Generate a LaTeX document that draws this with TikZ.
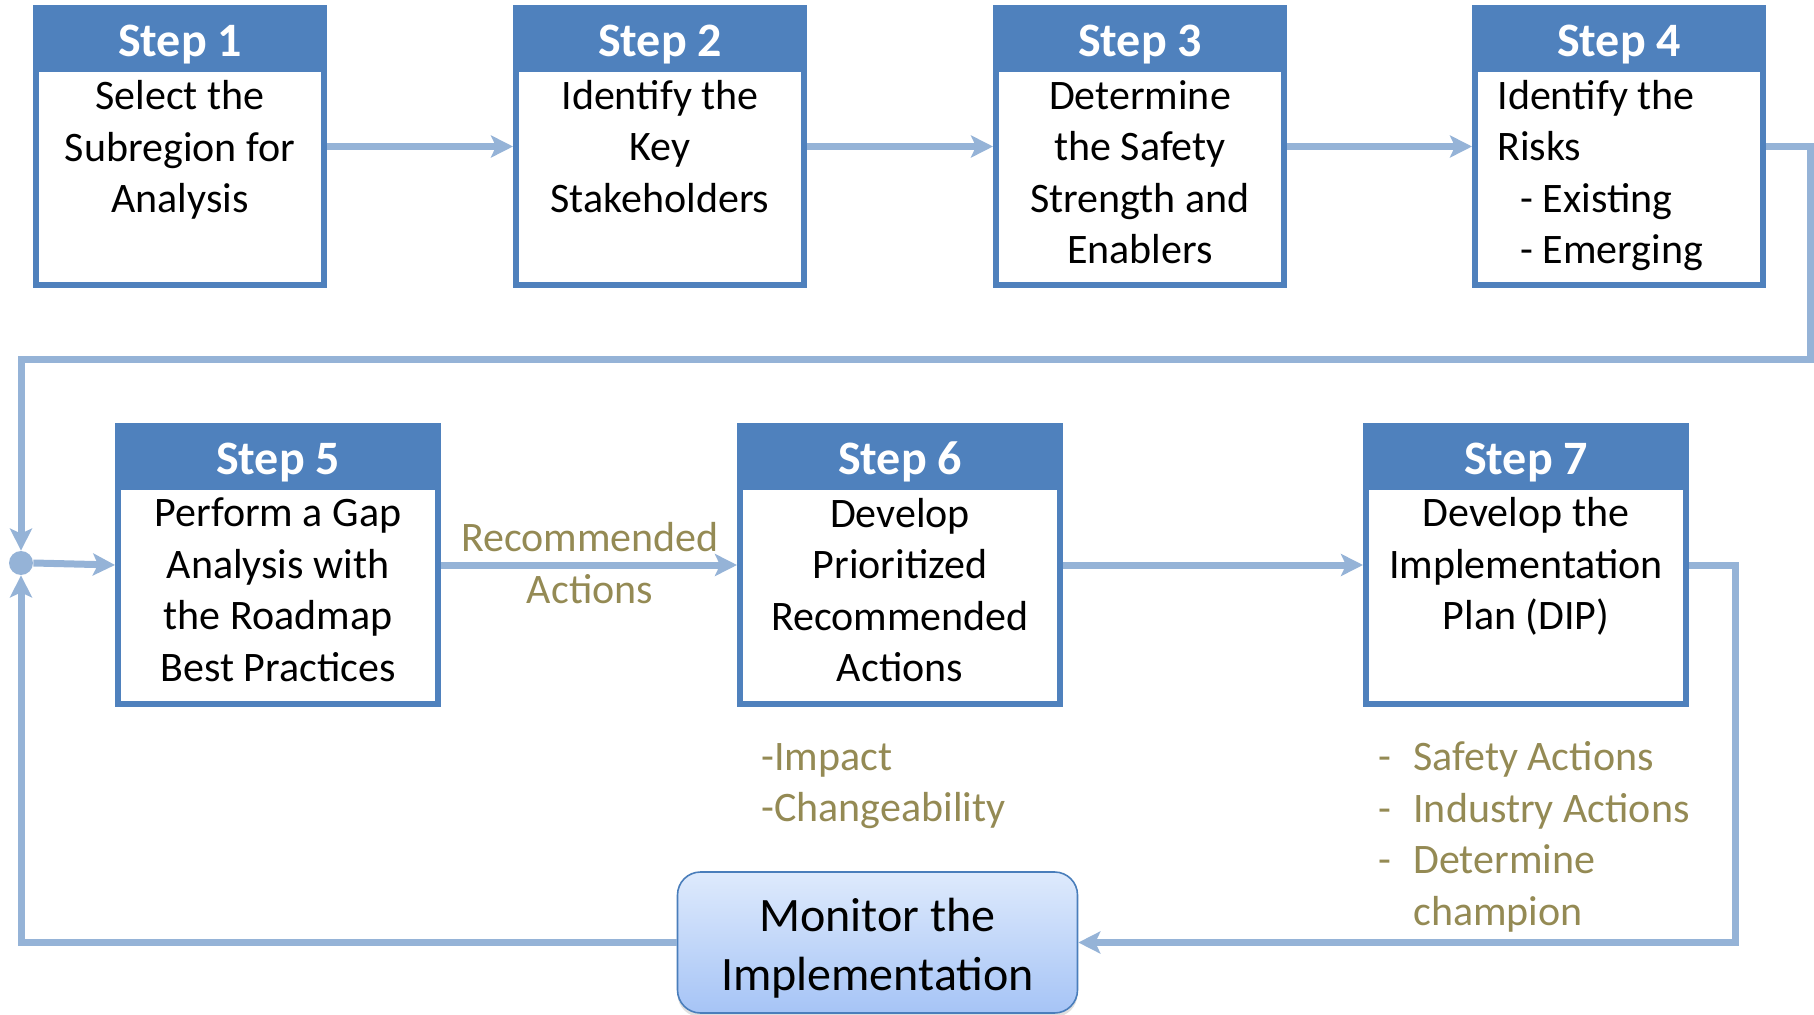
\documentclass[tikz,border=0pt]{standalone}
\usepackage{fontspec}
\setmainfont{Carlito}
\usetikzlibrary{arrows.meta,shadows}
\definecolor{hdr}{HTML}{4F81BD}
\definecolor{conn}{HTML}{95B3D7}
\definecolor{olive}{HTML}{948A54}
\definecolor{montop}{HTML}{DEEAFC}
\definecolor{monbot}{HTML}{A6C4F6}
\definecolor{monedge}{HTML}{4A7EBB}
\newcommand\bodyfnt{\fontsize{21}{25.75}\selectfont}
\newcommand\hdrfnt{\fontsize{24}{28}\selectfont\bfseries}
\newcommand\monfnt{\fontsize{24}{29.5}\selectfont}
\tikzset{
  stepbox/.style={draw=hdr, line width=3pt, fill=white, inner sep=0pt, minimum width=#1},
  topbox/.style={stepbox=144pt, minimum height=138.5pt},
  botbox/.style={stepbox=160pt, minimum height=139pt},
  hdrbar/.style={draw=hdr, fill=hdr, line width=3pt, inner sep=0pt, minimum width=#1,
    minimum height=30.5pt, anchor=north, text=white, font=\hdrfnt,
    text height=18.5pt, text depth=0.5pt},
  bodytxt/.style={align=center, inner sep=0pt, font=\bodyfnt, text=black},
  olivetxt/.style={align=left, inner sep=0pt, font=\bodyfnt, text=olive},
  conline/.style={draw=conn, line width=3.5pt},
  conarrow/.style={conline, -{Stealth[length=11pt,width=11pt,inset=2.5pt]}},
  monbox/.style={draw=monedge, line width=0.8pt, rounded corners=11.5pt,
    top color=montop, bottom color=monbot, minimum width=200pt, minimum height=70.5pt,
    inner sep=0pt, align=center, font=\monfnt,
    drop shadow={shadow xshift=0pt, shadow yshift=-2pt, opacity=0.25}},
}
\begin{document}
\begin{tikzpicture}[x=0.5pt, y=-0.5pt]
\useasboundingbox (0,0) rectangle (1814,1015);
% top row boxes
\node[topbox] (b1) at (180,146.5) {};
\node[topbox] (b2) at (660,146.5) {};
\node[topbox] (b3) at (1140,146.5) {};
\node[topbox] (b4) at (1619,146.5) {};
\node[hdrbar=144pt] (h1) at (b1.north) {Step 1};
\node[hdrbar=144pt] (h2) at (b2.north) {Step 2};
\node[hdrbar=144pt] (h3) at (b3.north) {Step 3};
\node[hdrbar=144pt] (h4) at (b4.north) {Step 4};
\node[bodytxt] (t1) at (180,150) {Select the\\Subregion for\\Analysis};
\node[bodytxt] (t2) at (660,146.5) {Identify the\\Key\\Stakeholders};
\node[bodytxt] (t3) at (1140,172) {Determine\\the Safety\\Strength and\\Enablers};
\node[bodytxt, align=left, anchor=west] (t4) at (1497,175.5) {Identify the\\Risks\\\hspace*{11.5pt}- Existing\\\hspace*{11.5pt}- Emerging};
% bottom row boxes
\node[botbox] (b5) at (278,565) {};
\node[botbox] (b6) at (900,565) {};
\node[botbox] (b7) at (1526,565) {};
\node[hdrbar=160pt] (h5) at (b5.north) {Step 5};
\node[hdrbar=160pt] (h6) at (b6.north) {Step 6};
\node[hdrbar=160pt] (h7) at (b7.north) {Step 7};
\node[bodytxt] (t5) at (278,590) {Perform a Gap\\Analysis with\\the Roadmap\\Best Practices};
\node[bodytxt] (t6) at (900,590) {Develop\\Prioritized\\Recommended\\Actions};
\node[bodytxt] (t7) at (1526,566.5) {Develop the\\Implementation\\Plan (DIP)};
% monitor box
\node[monbox] (mon) at (877.5,942.5) {};
\node[align=center, inner sep=0pt, font=\monfnt] (mt) at (877.5,948.5) {Monitor the\\Implementation};
% junction
\node[circle, fill=conn, minimum size=12pt, inner sep=0pt] (j) at (21,563) {};
% corner coordinates
\coordinate (r1) at (1810,146.5);
\coordinate (r2) at (1810,360);
\coordinate (l1) at (21,360);
\coordinate (r3) at (1735,565);
% connectors
\draw[conarrow] (b1.east) -- (b2.west);
\draw[conarrow] (b2.east) -- (b3.west);
\draw[conarrow] (b3.east) -- (b4.west);
\draw[conarrow] (b4.east) -- (r1) -- (r2) -- (l1) -- (j.north);
\draw[conarrow] (j.east) -- (b5.west);
\draw[conarrow] (b5.east) -- (b6.west);
\draw[conarrow] (b6.east) -- (b7.west);
\draw[conarrow] (b7.east) -- (r3) |- (mon.east);
\draw[conarrow] (mon.west) -| (j.south);
% annotations
\node[olivetxt, align=center] (ra) at (590,563) {Recommended\\Actions};
\node[olivetxt, anchor=west] (imp) at (761,786) {-Impact\\-Changeability};
\node[olivetxt, anchor=west] (lst) at (1378,837) {\makebox[17.5pt][l]{-}Safety Actions\\\makebox[17.5pt][l]{-}Industry Actions\\\makebox[17.5pt][l]{-}Determine\\\hspace*{17.5pt}champion};
\end{tikzpicture}
\end{document}
